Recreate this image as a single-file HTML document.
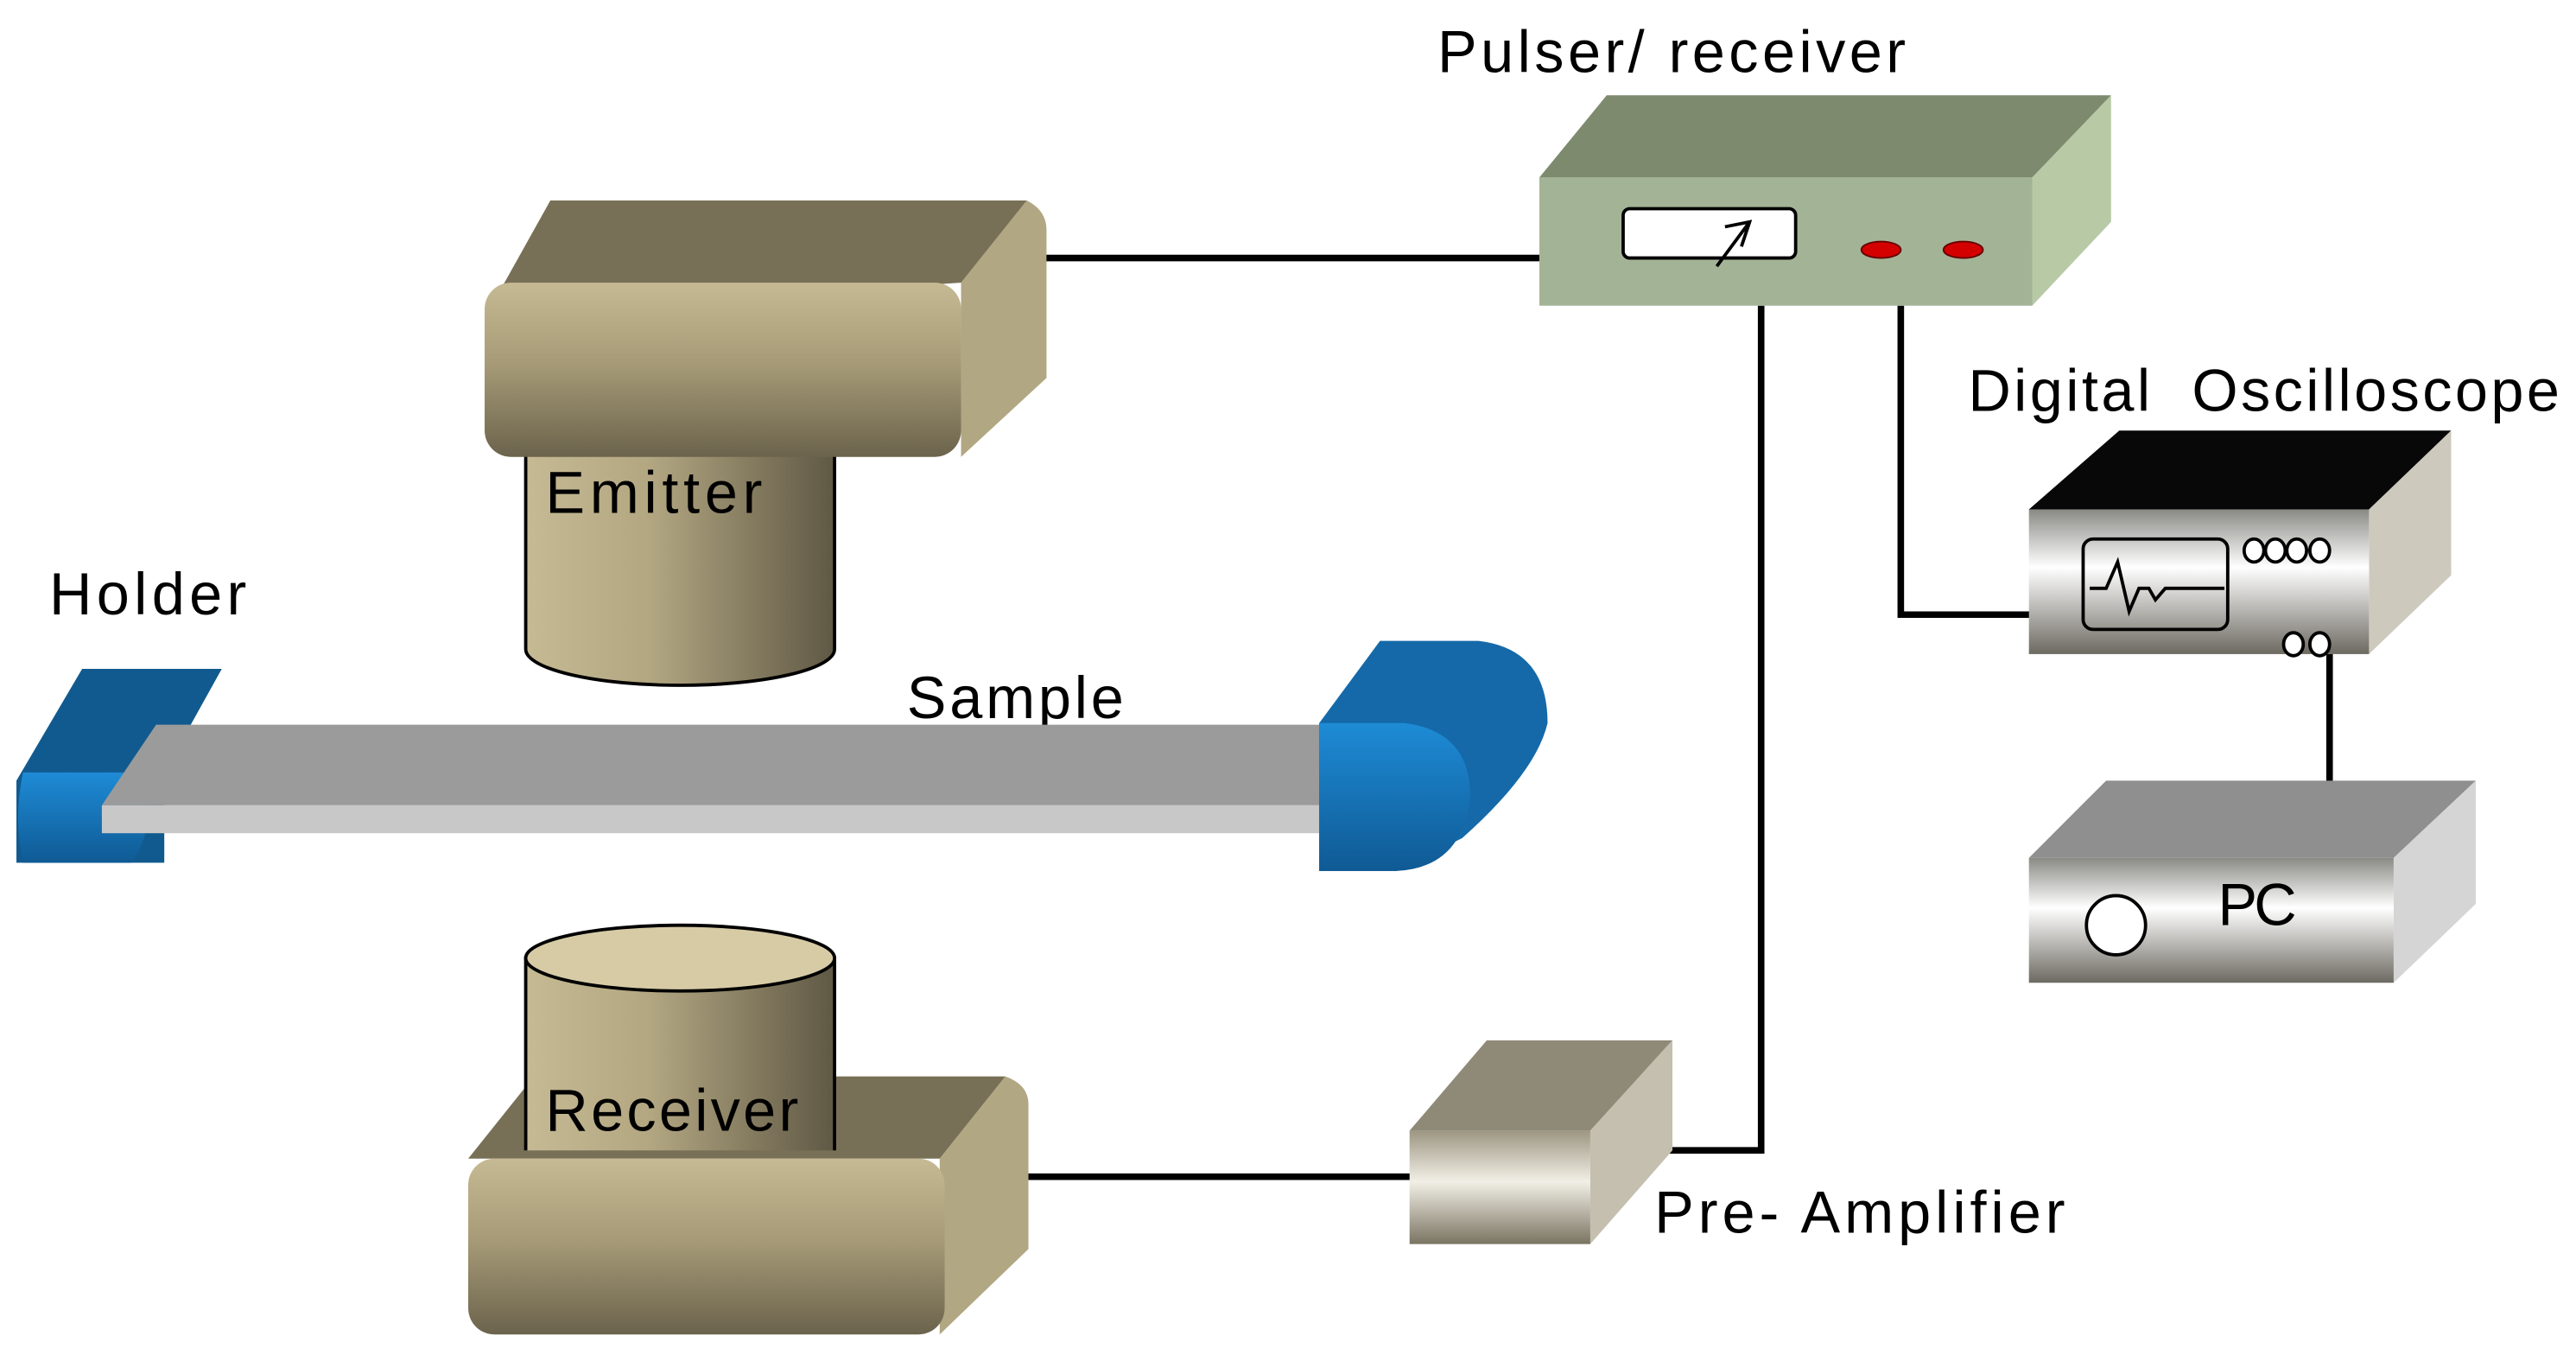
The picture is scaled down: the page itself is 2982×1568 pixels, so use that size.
<!DOCTYPE html>
<html><head><meta charset="utf-8"><style>html,body{margin:0;padding:0;background:#fff}svg{display:block}</style></head>
<body>
<svg width="2982" height="1568" viewBox="0 0 1568 824.5" preserveAspectRatio="none" xmlns="http://www.w3.org/2000/svg" font-family="Liberation Sans, sans-serif" font-size="36">
<defs>
<linearGradient id="tanV" x1="0" y1="0" x2="0" y2="1"><stop offset="0" stop-color="#c6ba94"/><stop offset="0.45" stop-color="#a89c78"/><stop offset="1" stop-color="#6b634c"/></linearGradient>
<linearGradient id="tanH" x1="0" y1="0" x2="1" y2="0"><stop offset="0" stop-color="#c6ba94"/><stop offset="0.4" stop-color="#b3a782"/><stop offset="1" stop-color="#5f5844"/></linearGradient>
<linearGradient id="blueV" x1="0" y1="0" x2="0" y2="1"><stop offset="0" stop-color="#1e8bd6"/><stop offset="1" stop-color="#0f5a94"/></linearGradient>
<linearGradient id="metal" x1="0" y1="0" x2="0" y2="1"><stop offset="0" stop-color="#8a8a85"/><stop offset="0.4" stop-color="#ffffff"/><stop offset="1" stop-color="#6d6a62"/></linearGradient>
<linearGradient id="pre" x1="0" y1="0" x2="0" y2="1"><stop offset="0" stop-color="#9c9682"/><stop offset="0.45" stop-color="#f2efe6"/><stop offset="1" stop-color="#7a7462"/></linearGradient>
</defs>
<g stroke="#000" stroke-width="4" fill="none">
<line x1="628" y1="157" x2="938" y2="157"/>
<polyline points="1072,186 1072,700 1015,700"/>
<polyline points="1157,186 1157,374 1236,374"/>
<line x1="1418" y1="398" x2="1418" y2="478"/>
<line x1="598" y1="716" x2="860" y2="716"/>
</g>
<text x="875" y="44" textLength="285">Pulser/ receiver</text>
<polygon points="937,108 978,58 1285,58 1237,108" fill="#7d8a6e"/>
<polygon points="1237,108 1285,58 1285,135 1237,186" fill="#b8c9a6"/>
<rect x="937" y="108" width="300" height="78" fill="#a3b496"/>
<rect x="988" y="127" width="105" height="30" rx="4" fill="#fff" stroke="#000" stroke-width="2"/>
<path d="M1045,162 L1065,135 M1050,138 L1065,135 L1060,150" stroke="#000" stroke-width="2" fill="none"/>
<ellipse cx="1145" cy="152" rx="12" ry="5" fill="#d40000" stroke="#600" stroke-width="1"/>
<ellipse cx="1195" cy="152" rx="12" ry="5" fill="#d40000" stroke="#600" stroke-width="1"/>
<path d="M320,270 L320,395 A94,22 0 0 0 508,395 L508,270 Z" fill="url(#tanH)" stroke="#000" stroke-width="2"/>
<path d="M585,172 L625,122 Q637,128 637,140 L637,230 L585,278 Z" fill="#b1a783"/>
<path d="M297,190 L335,122 L625,122 L585,172 L300,190 Z" fill="#787056"/>
<rect x="295" y="172" width="290" height="106" rx="16" fill="url(#tanV)"/>
<text x="332" y="312" textLength="132">Emitter</text>
<text x="30" y="374" textLength="120">Holder</text>
<text x="552" y="437" textLength="132">Sample</text>
<path d="M10,475 L50,407 L135,407 L100,470 L100,525 L10,525 Z" fill="#115a8f"/>
<path d="M14,470 L80,470 Q100,495 80,525 L14,525 Q8,498 14,470 Z" fill="url(#blueV)"/>
<polygon points="95,441 805,441 805,490 62,490" fill="#9b9b9b"/>
<rect x="62" y="490" width="745" height="17" fill="#c8c8c8"/>
<path d="M803,440 L840,390 L900,390 Q942,395 942,440 Q935,470 890,510 L850,530 L803,530 Z" fill="#1569a8"/>
<path d="M803,440 L855,440 Q895,445 895,485 Q890,528 850,530 L803,530 Z" fill="url(#blueV)"/>
<polygon points="285,705 325,655 612,655 572,705" fill="#787056"/>
<path d="M572,705 L612,655 Q626,660 626,672 L626,760 L572,812 Z" fill="#b1a783"/>
<rect x="285" y="705" width="290" height="107" rx="16" fill="url(#tanV)"/>
<path d="M320,700 L320,583 L508,583 L508,700" fill="url(#tanH)" stroke="#000" stroke-width="2"/>
<ellipse cx="414" cy="583" rx="94" ry="20" fill="#d7cba6" stroke="#000" stroke-width="2"/>
<text x="332" y="688" textLength="154">Receiver</text>
<polygon points="858,688 905,633 1018,633 968,688" fill="#8f8a78"/>
<polygon points="968,688 1018,633 1018,700 968,757" fill="#c4bfae"/>
<rect x="858" y="688" width="110" height="69" fill="url(#pre)"/>
<text x="1007" y="750" textLength="250">Pre- Amplifier</text>
<text x="1198" y="250" textLength="360" xml:space="preserve">Digital  Oscilloscope</text>
<polygon points="1235,310 1290,262 1492,262 1442,310" fill="#080808"/>
<polygon points="1442,310 1492,262 1492,350 1442,398" fill="#cdc9bd"/>
<rect x="1235" y="310" width="207" height="88" fill="url(#metal)"/>
<rect x="1268" y="328" width="88" height="55" rx="6" fill="none" stroke="#000" stroke-width="2"/>
<path d="M1272,358 L1282,358 L1289,342 L1296,372 L1302,358 L1308,358 L1312,365 L1318,358 L1354,358" stroke="#000" stroke-width="2" fill="none"/>
<g fill="#fff" stroke="#000" stroke-width="2">
<ellipse cx="1372" cy="335" rx="6" ry="7"/><ellipse cx="1385" cy="335" rx="6" ry="7"/><ellipse cx="1398" cy="335" rx="6" ry="7"/><ellipse cx="1412" cy="335" rx="6" ry="7"/>
<ellipse cx="1396" cy="392" rx="6" ry="7"/><ellipse cx="1412" cy="392" rx="6" ry="7"/>
</g>
<polygon points="1235,522 1282,475 1507,475 1457,522" fill="#8f8f8f"/>
<polygon points="1457,522 1507,475 1507,550 1457,598" fill="#d5d5d5"/>
<rect x="1235" y="522" width="222" height="76" fill="url(#metal)"/>
<circle cx="1288" cy="563" r="18" fill="#fff" stroke="#000" stroke-width="2"/>
<text x="1350" y="563" textLength="48">PC</text>
</svg>
</body></html>
